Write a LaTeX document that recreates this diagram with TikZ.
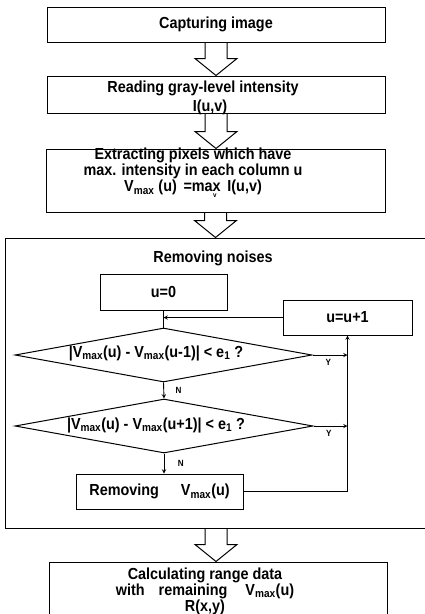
\documentclass[tikz,border=0pt]{standalone}
\usepackage{fontspec}
\setmainfont[FakeStretch=0.9]{Liberation Sans}
\usepackage{tikz}
\usetikzlibrary{shapes,arrows,positioning,calc}

\newcommand{\vmax}{V\textsubscript{max}}
\newcommand{\hollowarrow}[2]{%
  \draw[blockarr] let \p1=(#1.south), \p2=(#2.north) in
    (\x1-11pt,\y1) -- (\x1-11pt,\y2+17pt) -- (\x1-21pt,\y2+17pt) -- (\x1,\y2)
    -- (\x1+21pt,\y2+17pt) -- (\x1+11pt,\y2+17pt) -- (\x1+11pt,\y1);}

\begin{document}
\begin{tikzpicture}[
    x=1pt, y=-1pt,
    every node/.style={font=\bfseries\fontsize{16}{14.5}\selectfont},
    box/.style={rectangle, draw, line width=1pt, inner sep=0pt, text centered},
    decision/.style={diamond, draw, line width=1pt, inner sep=0pt},
    tag/.style={font=\bfseries\fontsize{9}{9}\selectfont},
    arrow/.style={->,>=stealth,line width=0.9pt},
    blockarr/.style={draw,line width=1pt}
]
\useasboundingbox (0,0) rectangle (425,614);
\clip (0,0) rectangle (425,614);

% Upper steps
\node[box, minimum width=338pt, minimum height=35pt] (capture) at (216,24.5) {Capturing image};
\node[box, minimum width=338pt, minimum height=37pt] (read) at (216,94.5) {};
\node[align=center] (readtxt) at (210,97.5)
    {Reading gray-level intensity\hspace*{14pt}\\[3pt]I(u,v)};
\node[box, minimum width=339pt, minimum height=63pt] (extract) at (215.5,180.5) {};
\node[align=center] (extracttxt) at (193,171.5)
    {Extracting pixels which have\\ max. intensity in each column u\\
     \vmax{} (u) \,=ma\rlap{\smash{\raisebox{-0.7ex}{\fontsize{7}{7}\selectfont\kern0.5pt v}}}x\, I(u,v)};

% Removing noises
\node[box, minimum width=422pt, minimum height=290pt] (noise) at (216,383) {};
\node (noisetitle) at (213,258) {Removing noises};
\node[box, minimum width=127pt, minimum height=36pt] (init) at (163.5,292) {u=0};
\node[box, minimum width=129pt, minimum height=35pt] (incr) at (347.5,317.5) {u=u+1};
\node[decision, minimum width=297pt, minimum height=54pt] (cmpprev) at (163.5,355) {};
\node (cmpprevtxt) at (156,353) {|\vmax(u) - \vmax(u-1)| {\textless} e\textsubscript{1} ?};
\node[decision, minimum width=298pt, minimum height=54pt] (cmpnext) at (164,426) {};
\node (cmpnexttxt) at (156,425) {|\vmax(u) - \vmax(u+1)| {\textless} e\textsubscript{1} ?};
\node[box, minimum width=167pt, minimum height=35pt] (remove) at (159.5,491.5)
    {Removing\hspace{22pt}\vmax(u)};

% Last step
\node[box, minimum width=338pt, minimum height=80pt] (range) at (218,602) {};
\node[align=center] (rangetxt) at (205,591)
    {Calculating range data\\ with\hspace{14pt}remaining\hspace{18pt}\vmax(u)\\ R(x,y)};

% Block arrows
\hollowarrow{capture}{read}
\hollowarrow{read}{extract}
\hollowarrow{extract}{noise}
\hollowarrow{noise}{range}

% Loop
\draw[line width=0.9pt] (init) -- (cmpprev);
\draw[arrow] (incr.west) -- (init.south |- incr.west);
\draw[arrow] (cmpprev.east) -- node[tag, pos=0.45, below=1pt] {Y} (incr.south |- cmpprev.east);
\draw[arrow] (cmpnext.east) -- node[tag, pos=0.45, below=1pt] {Y} (incr.south |- cmpnext.east);
\draw[arrow] (cmpprev.south) -- node[tag, right=8pt] {N} (cmpnext.north);
\draw[arrow] (cmpnext.south) -- node[tag, right=10pt] {N} (cmpnext.south |- remove.north);
\draw[arrow] (remove.east) -| (incr.south);

\end{tikzpicture}
\end{document}
